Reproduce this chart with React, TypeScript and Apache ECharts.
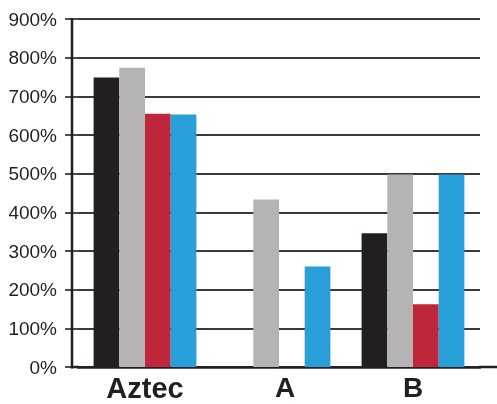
import React, { useEffect, useRef } from "react";
import * as echarts from "echarts";

const categories = ["Aztec", "A", "B"];
const blackValues = [749, null, 346];
const grayValues = [774, 433, 498];
const redValues = [655, null, 162];
const blueValues = [653, 260, 498];
const yTicks = [0, 100, 200, 300, 400, 500, 600, 700, 800, 900];

const INK = "#231f20";

export default function App() {
  const ref = useRef<HTMLDivElement>(null);
  useEffect(() => {
    if (!ref.current) return;
    const chart = echarts.init(ref.current, undefined, { renderer: "svg" });
    const barW = 25.7;
    const mk = (name: string, data: (number | null)[], color: string) => ({
      name,
      type: "bar",
      data,
      barWidth: barW,
      barGap: "0%",
      itemStyle: { color },
    });
    const narrow = {
      fontFamily: "Liberation Sans Narrow, Liberation Sans, Arial, sans-serif",
      fontWeight: "bold",
      fontSize: 28,
      color: INK,
    };
    chart.setOption({
      animation: false,
      grid: { left: 78, right: 17, top: 19, bottom: 37 },
      xAxis: {
        type: "category",
        data: categories,
        axisLine: { show: true, lineStyle: { color: INK, width: 2.5 } },
        axisTick: { show: false },
        axisLabel: {
          margin: 6,
          formatter: (v: string) =>
            v === "Aztec" ? `{big|${v}}` : v === "A" ? `{narrowA|${v}}` : `{narrow|${v}}`,
          rich: {
            big: {
              fontFamily: "Liberation Sans, Arial, sans-serif",
              fontWeight: "bold",
              fontSize: 29,
              color: INK,
            },
            narrow,
            narrowA: { ...narrow, padding: [0, 0, 0, 12] },
          },
        },
      },
      yAxis: {
        type: "value",
        min: yTicks[0],
        max: yTicks[yTicks.length - 1],
        interval: 100,
        axisLine: { show: false },
        axisTick: { show: true, inside: false, length: 13, lineStyle: { color: "#3a3a3a", width: 1.8 } },
        splitLine: { show: true, lineStyle: { color: "#3a3a3a", width: 1.8 } },
        axisLabel: {
          margin: 21,
          formatter: (v: number) => `${v}%`,
          fontFamily: "Liberation Sans, Arial, sans-serif",
          fontSize: 19,
          color: INK,
        },
      },
      series: [
        mk("black", blackValues, "#231f20"),
        mk("gray", grayValues, "#b6b3b4"),
        mk("red", redValues, "#bf263b"),
        mk("blue", blueValues, "#299fda"),
      ],
      graphic: [
        {
          type: "line",
          shape: { x1: 72, y1: 18, x2: 72, y2: 368.5 },
          style: { stroke: INK, lineWidth: 2.5 },
          z: 100,
        },
        {
          type: "line",
          shape: { x1: 71, y1: 367, x2: 79, y2: 367 },
          style: { stroke: INK, lineWidth: 2.5 },
          z: 100,
        },
        {
          type: "line",
          shape: { x1: 479, y1: 367, x2: 497, y2: 367 },
          style: { stroke: INK, lineWidth: 2.5 },
          z: 100,
        },
      ],
    });
    return () => chart.dispose();
  }, []);
  return <div ref={ref} style={{ width: 497, height: 404, position: "fixed", left: 0, top: 0 }} />;
}
